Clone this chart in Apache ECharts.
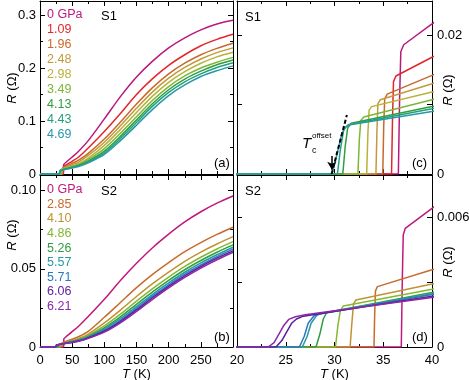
<!DOCTYPE html>
<html><head><meta charset="utf-8">
<script src="https://cdn.jsdelivr.net/npm/echarts@6/dist/echarts.min.js"></script>
<style>html,body{margin:0;padding:0;background:#fff}#c{width:469px;height:380px}</style>
</head><body><div id="c"></div>
<script>
// ---------- data ----------
const s1Labels = ['0 GPa','1.09','1.96','2.48','2.98','3.49','4.13','4.43','4.69'];
const s1Colors = ['#b8197f','#e3262b','#c8692c','#c29a3c','#b9b23a','#7db634','#2e9e3e','#23a07e','#2898a8'];
const s2Labels = ['0 GPa','2.85','4.10','4.86','5.26','5.57','5.71','6.06','6.21'];
const s2Colors = ['#c0187c','#c86a2e','#c09232','#84b832','#2e9e40','#2898a2','#2a78c0','#5c1c9c','#8a28a8'];

const wideT = [50,60,75,100,125,150,175,200,225,250,275,300];

// S1 low-temperature transitions [T (K), R (ohm)] up to 40 K
const s1Low = [
  [[36.55,0],[36.68,0.011],[36.8,0.0176],[37.1,0.0186],[40,0.0216]],
  [[35.85,0],[35.95,0.008],[36.05,0.0133],[36.3,0.0141],[40,0.0168]],
  [[34.95,0],[35.05,0.007],[35.15,0.0108],[35.4,0.0115],[40,0.0142]],
  [[34.25,0],[34.35,0.006],[34.45,0.0101],[34.7,0.0107],[40,0.0130]],
  [[33.3,0],[33.43,0.006],[33.55,0.0092],[33.8,0.0097],[40,0.0118]],
  [[32.4,0],[32.55,0.005],[32.7,0.0077],[33.0,0.0082],[40,0.0107]],
  [[30.85,0],[31.1,0.004],[31.35,0.0066],[31.7,0.0073],[40,0.0097]],
  [[30.3,0],[30.6,0.0035],[30.95,0.0064],[31.4,0.0071],[40,0.0094]],
  [[29.75,0],[30.25,0.0028],[30.75,0.0058],[31.1,0.0067],[31.6,0.0071],[40,0.0090]]
];
// S1 resistance at wideT
const s1Wide = [
  [0.032,0.043,0.063,0.104,0.146,0.183,0.213,0.238,0.257,0.272,0.283,0.290],
  [0.024,0.032,0.049,0.080,0.114,0.150,0.180,0.205,0.225,0.242,0.254,0.2635],
  [0.020,0.026,0.039,0.066,0.098,0.132,0.163,0.189,0.209,0.225,0.237,0.2466],
  [0.0175,0.0225,0.035,0.060,0.091,0.124,0.155,0.181,0.201,0.217,0.229,0.238],
  [0.015,0.019,0.030,0.054,0.084,0.116,0.147,0.173,0.193,0.209,0.221,0.2296],
  [0.0143,0.018,0.027,0.048,0.077,0.108,0.139,0.165,0.185,0.200,0.211,0.220],
  [0.0127,0.016,0.024,0.043,0.071,0.102,0.133,0.159,0.179,0.194,0.206,0.215],
  [0.0123,0.0155,0.023,0.040,0.067,0.097,0.128,0.154,0.174,0.189,0.201,0.210],
  [0.0114,0.0143,0.021,0.037,0.063,0.092,0.122,0.148,0.168,0.184,0.195,0.204]
];

// S2 low-temperature transitions
const s2Low = [
  [[36.85,0],[36.95,0.003],[37.05,0.0052],[37.25,0.0055],[40,0.00643]],
  [[34.05,0],[34.12,0.0015],[34.2,0.0026],[34.4,0.0028],[40,0.00358]],
  [[31.6,0],[31.78,0.0011],[31.95,0.0020],[32.2,0.00218],[40,0.00292]],
  [[30.1,0],[30.35,0.0010],[30.6,0.0017],[30.9,0.0019],[40,0.00268]],
  [[28.1,0],[28.5,0.0006],[28.85,0.0013],[29.2,0.0016],[40,0.00253]],
  [[26.7,0],[27.2,0.0005],[27.6,0.0011],[28.2,0.00148],[28.8,0.00157],[40,0.00247]],
  [[26.4,0],[26.9,0.0005],[27.3,0.0011],[27.9,0.00145],[28.5,0.00153],[40,0.00243]],
  [[24.0,0],[24.6,0.0003],[25.1,0.0007],[25.6,0.0011],[26.1,0.0013],[26.8,0.00143],[40,0.00235]],
  [[23.2,0],[23.8,0.0002],[24.3,0.0006],[24.8,0.0010],[25.3,0.00128],[26.0,0.0014],[27.0,0.0015],[40,0.0023]]
];
const s2Wide = [
  [0.0098,0.0133,0.0195,0.0305,0.0425,0.0535,0.0635,0.0722,0.0800,0.0865,0.0920,0.0966],
  [0.0050,0.0066,0.0100,0.0190,0.0285,0.0380,0.0465,0.0540,0.0610,0.0668,0.0720,0.0766],
  [0.0041,0.0055,0.0083,0.0154,0.0236,0.0323,0.0405,0.0479,0.0548,0.0607,0.0659,0.0706],
  [0.0037,0.0049,0.0074,0.0135,0.0210,0.0293,0.0373,0.0447,0.0515,0.0574,0.0627,0.0674],
  [0.0035,0.0045,0.0068,0.0123,0.0193,0.0273,0.0352,0.0426,0.0494,0.0553,0.0606,0.0653],
  [0.0033,0.0043,0.0064,0.0114,0.0181,0.0258,0.0337,0.0410,0.0478,0.0538,0.0590,0.0638],
  [0.0031,0.0040,0.0061,0.0107,0.0171,0.0247,0.0325,0.0398,0.0466,0.0525,0.0578,0.0626],
  [0.0030,0.0038,0.0058,0.0101,0.0163,0.0237,0.0315,0.0388,0.0455,0.0515,0.0568,0.0615],
  [0.0029,0.0037,0.0055,0.0095,0.0155,0.0228,0.0305,0.0378,0.0445,0.0505,0.0558,0.0606]
];

// T_c offset extrapolation line and arrow (panel c)
const tcFitLine = [[29.7,0],[31.27,0.0085]];
const tcArrow = [[29.73,0.0026],[29.73,0.0006]];

// ---------- chart ----------
const FONT = '"Liberation Sans", Arial, Helvetica, sans-serif';
const chart = echarts.init(document.getElementById('c'), null, {renderer:'canvas'});

function curve(low, wide){
  const d = [[0,0]].concat(low);
  wideT.forEach((t,j)=>d.push([t, wide[j]]));
  return d;
}

const grids = [
  {left:40, top:1, width:193, height:173},
  {left:40, top:175, width:193, height:172},
  {left:237, top:1, width:195, height:173},
  {left:237, top:175, width:195, height:172}
].map(g=>Object.assign({outerBoundsMode:'none', containLabel:false, show:false}, g));

const lineAx = {show:true, onZero:false, lineStyle:{color:'#000', width:1}};
function xAx(grid, pos, min, max, interval, showLabels){
  return {type:'value', gridIndex:grid, position:pos, min, max, interval,
    axisLine:lineAx, splitLine:{show:false},
    axisTick:{show:true, inside:true, length:5, lineStyle:{color:'#000'}},
    minorTick:{show:true, splitNumber:2, length:3, lineStyle:{color:'#000'}},
    axisLabel:{show:showLabels, margin:7, color:'#000', fontSize:13, fontFamily:FONT, showMinLabel:true, showMaxLabel:true,
      formatter: v => (max===300 && v===300) ? '' : String(v)},
    name: showLabels ? '{i|T} (K)' : '', nameLocation:'middle', nameGap:21,
    nameTextStyle:{color:'#000', fontSize:13, fontFamily:FONT, rich:{i:{fontStyle:'italic', fontSize:13, fontFamily:FONT, color:'#000'}}}
  };
}
function yAx(grid, pos, max, interval, minor, showLabels, fmt){
  return {type:'value', gridIndex:grid, position:pos, min:0, max, interval,
    axisLine:lineAx, splitLine:{show:false},
    axisTick:{show:true, inside:true, length:5, lineStyle:{color:'#000'}},
    minorTick:{show:minor, splitNumber:2, length:3, lineStyle:{color:'#000'}},
    axisLabel:{show:showLabels, margin:pos==='left'?4:5, color:'#000', fontSize:13, fontFamily:FONT,
      formatter:fmt, showMinLabel:true, showMaxLabel:false, hideOverlap:false}
  };
}
const onStep = (v, step) => Math.abs(v/step - Math.round(v/step)) < 1e-6;
const fmtA = v => v===0 ? '0' : (onStep(v,0.1) ? v.toFixed(1) : '');
const fmtB = v => v===0 ? '0' : (onStep(v,0.05) ? v.toFixed(2) : '');
const fmtC = v => Math.abs(v)<1e-9 ? '0' : (Math.abs(v-0.02)<1e-9 ? '0.02' : '');
const fmtD = v => Math.abs(v)<1e-9 ? '0' : (Math.abs(v-0.006)<1e-9 ? '0.006' : '');

const xAxis = [
  xAx(0,'bottom',0,300,50,false), xAx(0,'top',0,300,50,false),
  xAx(1,'bottom',0,300,50,true),  xAx(1,'top',0,300,50,false),
  xAx(2,'bottom',20,40,5,false),  xAx(2,'top',20,40,5,false),
  xAx(3,'bottom',20,40,5,true),   xAx(3,'top',20,40,5,false)
];
const yAxis = [
  yAx(0,'left',0.3264,0.1,true,true,fmtA),   yAx(0,'right',0.3264,0.1,true,false,fmtA),
  yAx(1,'left',0.110,0.05,true,true,fmtB),   yAx(1,'right',0.110,0.05,true,false,fmtB),
  yAx(2,'left',0.0249,0.01,false,false,fmtC), yAx(2,'right',0.0249,0.01,false,true,fmtC),
  yAx(3,'left',0.00798,0.003,false,false,fmtD), yAx(3,'right',0.00798,0.003,false,true,fmtD)
];

const series = [];
function addSet(labels, colors, low, wide, wideAx, narrowAx){
  labels.forEach((name,i)=>{
    const d = curve(low[i], wide[i]);
    const base = {type:'line', name, data:d, showSymbol:false, symbol:'none', clip:true,
      lineStyle:{color:colors[i], width:1.5}, itemStyle:{color:colors[i]},
      silent:true, animation:false, emphasis:{disabled:true}};
    series.push(Object.assign({}, base, {xAxisIndex:wideAx, yAxisIndex:wideAx, smooth:0.3}));
    series.push(Object.assign({}, base, {xAxisIndex:narrowAx, yAxisIndex:narrowAx}));
  });
}
addSet(s1Labels, s1Colors, s1Low, s1Wide, 0, 4);
addSet(s2Labels, s2Colors, s2Low, s2Wide, 2, 6);

series.push({type:'line', name:'fit', data:tcFitLine, xAxisIndex:4, yAxisIndex:4, symbol:'none', silent:true, animation:false,
  lineStyle:{color:'#000', width:2, type:[4,2.5]}, clip:true,
  markLine:{silent:true, symbol:['none','arrow'], symbolSize:[7,8], animation:false,
    lineStyle:{color:'#000', width:1.5, type:'solid'}, label:{show:false},
    data:[[{coord:tcArrow[0]},{coord:tcArrow[1]}]]}});

function legend(labels, colors, top, lh){
  return {orient:'vertical', left:42, top, padding:0, itemGap:0, itemWidth:0, itemHeight:lh, icon:'none',
    selectedMode:false, textStyle:{fontSize:12.5, fontFamily:FONT, lineHeight:lh, padding:0},
    data: labels.map((n,i)=>({name:n, textStyle:{color:colors[i]}}))};
}

const T = (text, x, y, extra) => ({type:'text', x, y, silent:true,
  style:Object.assign({text, fill:'#000', font:'13px '+FONT}, extra||{})});
const rname = (x,y) => ({type:'text', x, y, rotation:Math.PI/2, silent:true,
  style:{text:'{i|R} (Ω)', fill:'#000', fontSize:13, fontFamily:FONT, align:'center', verticalAlign:'middle',
    rich:{i:{fontStyle:'italic', fontSize:13, fontFamily:FONT, fill:'#000'}}}});

chart.setOption({
  animation:false,
  backgroundColor:'#fff',
  grid:grids, xAxis, yAxis, series,
  legend:[legend(s1Labels, s1Colors, 6.5, 15.1), legend(s2Labels, s2Colors, 182.5, 14.6)],
  graphic:[
    T('(a)',214,157), T('(b)',214,331), T('(c)',412,157), T('(d)',412,331),
    T('S1',101,10), T('S1',245,11), T('S2',101,185), T('S2',245,185),
    rname(12,88), rname(12,235), rname(448,90), rname(448,262),
    T('T',302,136,{font:'italic 15px '+FONT}),
    T('offset',312,132,{font:'8px '+FONT}),
    T('c',312,146,{font:'9px '+FONT})
  ]
});
</script></body></html>
